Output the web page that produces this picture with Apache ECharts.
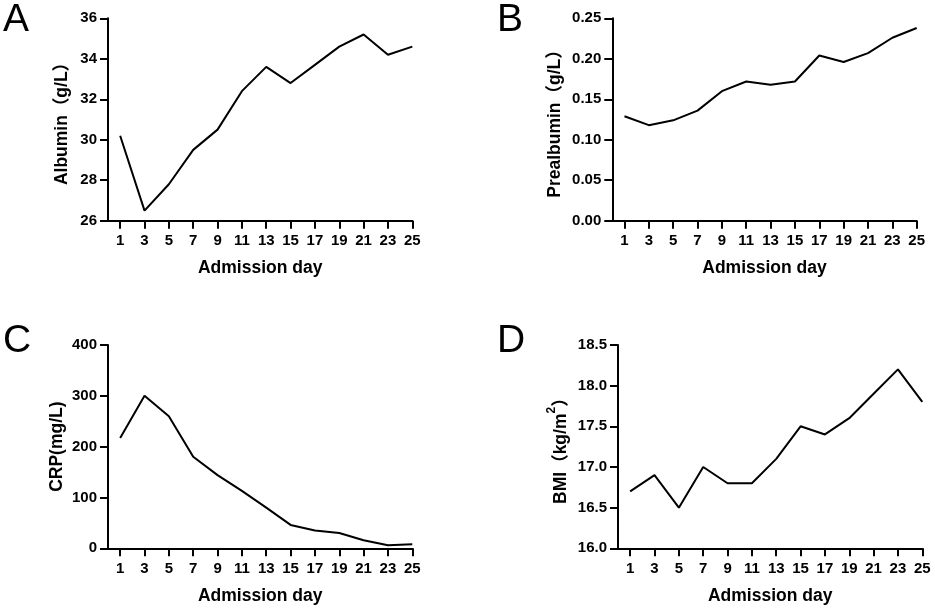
<!DOCTYPE html>
<html>
<head>
<meta charset="utf-8">
<script src="https://cdn.jsdelivr.net/npm/echarts@6/dist/echarts.min.js"></script>
<style>
html,body{margin:0;padding:0;background:#fff;}
#chart{width:935px;height:614px;}
</style>
</head>
<body>
<div id="chart"></div>
<script>
// ---- data ----
const days = [1,3,5,7,9,11,13,15,17,19,21,23,25];
const albumin = [30.2,26.5,27.8,29.5,30.5,32.4,33.6,32.8,33.7,34.6,35.2,34.2,34.6];
const prealbumin = [0.129,0.118,0.124,0.136,0.160,0.172,0.168,0.172,0.204,0.196,0.207,0.226,0.238];
const crp = [217,300,260,180,144,113,80,46,35,30,16,6,8];
const bmi = [16.7,16.9,16.5,17.0,16.8,16.8,17.1,17.5,17.4,17.6,17.9,18.2,17.8];
const xTicks = [1,3,5,7,9,11,13,15,17,19,21,23,25];
const panelLetters = ['A','B','C','D'];
const xTitle = 'Admission day';
const yTitles = ['{b|Albumin（g/L）}','{b|Prealbumin（g/L）}','{b|CRP(mg/L)}','{b|BMI（kg/m}{sup|2}{b|）}'];
const yRanges = [
  {min:26,max:36,interval:2,dec:0},
  {min:0,max:0.25,interval:0.05,dec:2},
  {min:0,max:400,interval:100,dec:0},
  {min:16,max:18.5,interval:0.5,dec:1}
];
const seriesData = [albumin, prealbumin, crp, bmi];

// ---- layout ----
const FONT = '"Liberation Sans", Arial, "Noto Sans CJK SC", sans-serif';
const grids = [
  {left:108, top:18.3, width:304.3, height:202.4},
  {left:612.3, top:18.3, width:304.4, height:202.4},
  {left:108, top:345, width:304.3, height:203.3},
  {left:618, top:345, width:304.3, height:203.3}
];
const nameGaps = [37, 48, 42, 48];
const letterPos = [[3,1],[497,1],[3,322],[497,322]];

const chart = echarts.init(document.getElementById('chart'), null, {renderer:'canvas'});

const xAxis = grids.map((g,i)=>({
  type:'value', gridIndex:i, min:0, max:25,
  splitLine:{show:false},
  axisLine:{onZero:false, lineStyle:{color:'#000', width:2}},
  axisTick:{show:true, length:8, lineStyle:{color:'#000', width:2}, customValues:xTicks},
  axisLabel:{customValues:xTicks, margin:13, color:'#000', fontSize:15, fontWeight:'bold', fontFamily:FONT},
  name:xTitle, nameLocation:'middle', nameGap:39,
  nameTextStyle:{color:'#000', fontSize:17.5, fontWeight:'bold', fontFamily:FONT}
}));

const yAxis = grids.map((g,i)=>({
  type:'value', gridIndex:i, min:yRanges[i].min, max:yRanges[i].max, interval:yRanges[i].interval,
  splitLine:{show:false},
  axisLine:{show:true, onZero:false, lineStyle:{color:'#000', width:2}},
  axisTick:{show:true, length:8, lineStyle:{color:'#000', width:2}},
  axisLabel:{margin:11, color:'#000', fontSize:15, fontWeight:'bold', fontFamily:FONT,
    formatter:(v)=>Number(v).toFixed(yRanges[i].dec)},
  name:yTitles[i], nameLocation:'middle', nameRotate:90, nameGap:nameGaps[i],
  nameTextStyle:{color:'#000', fontSize:17.5, fontWeight:'bold', fontFamily:FONT,
    rich:{
      b:{fontSize:17.5, fontWeight:'bold', fontFamily:FONT, color:'#000', lineHeight:24, verticalAlign:'bottom'},
      sup:{fontSize:12, fontWeight:'bold', fontFamily:FONT, color:'#000', lineHeight:12, verticalAlign:'top'}
    }}
}));

const series = seriesData.map((d,i)=>({
  type:'line', xAxisIndex:i, yAxisIndex:i,
  data: days.map((x,k)=>[x,d[k]]),
  symbol:'none', silent:true,
  lineStyle:{color:'#000', width:2}
}));

const graphic = panelLetters.map((t,i)=>({
  type:'text', left:letterPos[i][0], top:letterPos[i][1],
  style:{text:t, fill:'#000', font:'normal 39px "Liberation Sans", Arial, sans-serif'}
}));

chart.setOption({
  animation:false,
  backgroundColor:'#fff',
  grid: grids.map(g=>Object.assign({containLabel:false}, g)),
  xAxis, yAxis, series, graphic
});
</script>
</body>
</html>
